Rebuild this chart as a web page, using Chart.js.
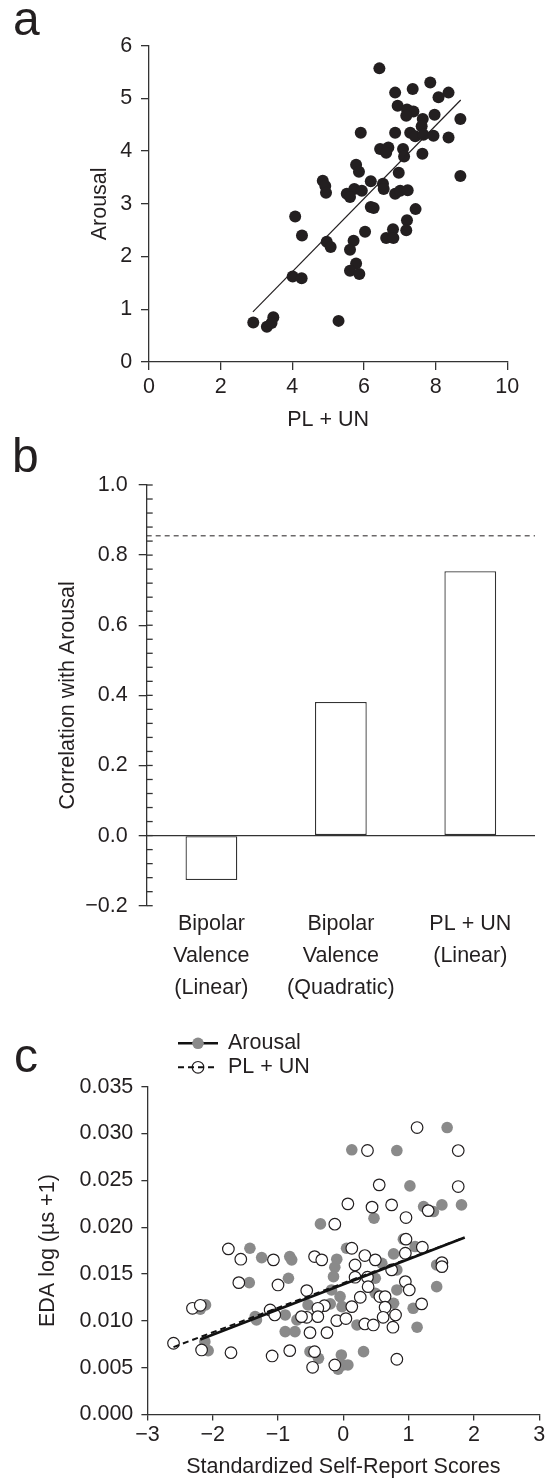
<!DOCTYPE html>
<html>
<head>
<meta charset="utf-8">
<script src="https://cdn.jsdelivr.net/npm/chart.js@4.4.1/dist/chart.umd.min.js"></script>
<style>
  html, body { margin: 0; padding: 0; background: #fff; }
  body { width: 551px; height: 1480px; position: relative; overflow: hidden;
         font-family: 'Liberation Sans', Arial, sans-serif; color: #231f20; }
  canvas { position: absolute; left: 0; }
  .tag { position: absolute; font-size: 48px; line-height: 48px; }
</style>
</head>
<body>
<canvas id="chartA" width="551" height="440" style="top:0"></canvas>
<canvas id="chartB" width="551" height="573" style="top:430px"></canvas>
<canvas id="chartC" width="551" height="477" style="top:1003px"></canvas>
<div class="tag" style="left:13px;top:-5px">a</div>
<div class="tag" style="left:12px;top:432px">b</div>
<div class="tag" style="left:14px;top:1032px">c</div>

<script>
// ---- data: panel a (PL + UN vs Arousal) ----
const aPlUn = [2.91, 3.29, 3.47, 3.42, 4.08, 4.27, 4.01, 4.26,
  6.43, 6.87, 7.36, 7.85, 8.08, 8.36, 6.94, 7.20, 7.38, 7.18, 7.97, 7.64, 7.61, 8.69,
  5.91, 6.87, 7.29, 7.43, 7.66, 7.94, 8.36, 6.45, 6.68, 6.62, 7.09, 7.12, 7.63,
  5.78, 5.86, 6.97, 8.69, 4.85, 4.92, 4.94, 6.19, 6.53, 6.55, 5.73, 5.94, 5.52, 5.61,
  6.87, 7.01, 7.22, 6.19, 6.27, 7.44, 7.20, 7.18, 6.81, 6.62, 6.82, 6.03, 5.71, 5.61,
  4.96, 5.07, 5.78, 5.61, 5.87, 5.29];
const aArousal = [0.75, 0.67, 0.85, 0.74, 2.76, 2.40, 1.62, 1.59,
  5.57, 5.11, 5.18, 5.30, 5.02, 5.11, 4.86, 4.79, 4.75, 4.67, 4.69, 4.61, 4.47, 4.61,
  4.35, 4.35, 4.35, 4.28, 4.31, 4.29, 4.26, 4.04, 4.07, 3.97, 4.04, 3.90, 3.95,
  3.74, 3.61, 3.59, 3.53, 3.44, 3.34, 3.21, 3.43, 3.38, 3.28, 3.28, 3.25, 3.19, 3.13,
  3.19, 3.25, 3.26, 2.94, 2.92, 2.90, 2.69, 2.50, 2.52, 2.35, 2.35, 2.47, 2.30, 2.13,
  2.28, 2.18, 1.87, 1.73, 1.67, 0.78];
const aFitX = [2.9, 8.7];
const aFitY = [0.95, 4.97];
const aXTicks = [0, 10, 2];
const aYTicks = [0, 6, 1];

// ---- data: panel b (correlations) ----
const bLabels = [['Bipolar', 'Valence', '(Linear)'], ['Bipolar', 'Valence', '(Quadratic)'], ['PL + UN', '(Linear)']];
const bCorr = [-0.127, 0.381, 0.754];
const bCeiling = 0.855;
const bYTicks = [-0.2, 1.0, 0.04];

// ---- data: panel c (EDA vs standardized scores) ----
const cArousalX = [-1.43, -1.25, -1.44, -2.11, -2.19, -1.35, -1.33, -2.12, -2.07,
  0.13, 0.47, -0.35, -0.82, -0.79, 0.05, -0.10, -0.13, -0.84, -0.15, 0.59, -0.18, -0.05,
  -0.02, -0.54, -0.20, 0.49, 0.49, -0.89, -0.89, -0.74, -0.71, 0.21, -0.51, -0.38, 0.31,
  -0.03, 0.00, 0.07, -0.08,
  1.59, 0.82, 1.02, 1.23, 1.51, 1.81, 1.38, 0.92, 0.77, 1.10, 0.82, 1.43, 0.82, 1.43,
  1.07, 0.77, 1.13];
const cArousalY = [0.01775, 0.01675, 0.01408, 0.01170, 0.01124, 0.01045, 0.01010, 0.00778, 0.00682,
  0.02826, 0.02096, 0.02035, 0.01686, 0.01651, 0.01775, 0.01658, 0.01573, 0.01455, 0.01472, 0.01615, 0.01330, 0.01259,
  0.01152, 0.01170, 0.01181, 0.01455, 0.01295, 0.01063, 0.00885, 0.00885, 0.01010, 0.00956, 0.00671, 0.00600, 0.00671,
  0.00636, 0.00529, 0.00529, 0.00483,
  0.03064, 0.02818, 0.02441, 0.02220, 0.02238, 0.02238, 0.02167, 0.01872, 0.01715, 0.01793, 0.01544, 0.01597, 0.01330, 0.01365,
  0.01134, 0.01188, 0.00932];
const cPlUnX = [-1.76, -1.57, -1.07, -1.60, -1.00, -2.31, -2.19, -1.12, -1.05, -2.60, -2.17, -1.72, -1.09,
  0.37, 0.55, 0.07, 0.44, 0.74, -0.13, 0.13, -0.44, -0.33, 0.33, 0.18, 0.49, 0.18, 0.37, 0.38,
  -0.56, 0.26, 0.56, 0.64, -0.29, -0.39, 0.13, 0.64, -0.56, -0.64, -0.39, -0.10, 0.04, 0.61,
  0.33, 0.46, -0.51, -0.25, -0.82, -0.44, -0.47, -0.13,
  1.13, 1.76, 1.76, 0.96, 1.30, 0.96, 0.95, 1.21, 1.51, 1.51, 0.74, 0.95, 1.01, 1.20, 0.80, 0.76, 0.82];
const cPlUnY = [0.01768, 0.01658, 0.01651, 0.01408, 0.01383, 0.01134, 0.01166, 0.01116, 0.01063, 0.00761, 0.00689, 0.00660, 0.00625,
  0.02819, 0.02452, 0.02249, 0.02214, 0.02238, 0.02032, 0.01775, 0.01686, 0.01651, 0.01697, 0.01597, 0.01651, 0.01466, 0.01466, 0.01365,
  0.01323, 0.01252, 0.01259, 0.01259, 0.01162, 0.01134, 0.01152, 0.01145, 0.01038, 0.01045, 0.01045, 0.01002, 0.01024, 0.01038,
  0.00967, 0.00956, 0.00874, 0.00874, 0.00682, 0.00671, 0.00504, 0.00529,
  0.03064, 0.02818, 0.02434, 0.02103, 0.02177, 0.01872, 0.01722, 0.01786, 0.01622, 0.01579, 0.01544, 0.01419, 0.01330, 0.01181, 0.01063, 0.00932, 0.00590];
const cArousalFitX = [-2.19, 1.86];
const cArousalFitY = [0.0080, 0.0189];
const cPlUnFitX = [-2.6, 1.82];
const cPlUnFitY = [0.0072, 0.0188];
const cXTicks = [-3, 3, 1];
const cYTicks = [0, 0.035, 0.005];
const cSeriesNames = ['Arousal', 'PL + UN'];

// ---- common style ----
const INK = '#231f20';
const AXIS = '#333333';
const GREY = '#8a8a8a';
Chart.defaults.font.family = "'Liberation Sans', Arial, sans-serif";
Chart.defaults.font.size = 21.5;
Chart.defaults.color = INK;
Chart.defaults.animation = false;
Chart.defaults.events = [];
Chart.defaults.plugins.legend.display = false;
Chart.defaults.plugins.tooltip.enabled = false;

const minus = s => String(s).replace('-', '\u2212');
const pts = (xs, ys) => xs.map((x, i) => ({ x: x, y: ys[i] }));

// ---- panel a ----
new Chart(document.getElementById('chartA'), {
  type: 'scatter',
  data: {
    datasets: [
      { data: pts(aFitX, aFitY), showLine: true, borderColor: INK, borderWidth: 1.2, pointRadius: 0, order: 0 },
      { data: pts(aPlUn, aArousal), backgroundColor: INK, pointRadius: 6, pointBorderWidth: 0, order: 1 }
    ]
  },
  options: {
    responsive: false,
    layout: { padding: { left: 0, top: 45.7, right: 43.7, bottom: 6.6 } },
    scales: {
      x: {
        type: 'linear', min: aXTicks[0], max: aXTicks[1],
        afterFit: s => { s.height = 71.4; },
        ticks: { stepSize: aXTicks[2], padding: 4.1 },
        grid: { drawOnChartArea: false, tickLength: 8, color: AXIS, lineWidth: 1.3 },
        border: { color: AXIS, width: 1.3 },
        title: { display: true, text: 'PL + UN', padding: 0 }
      },
      y: {
        min: aYTicks[0], max: aYTicks[1],
        afterFit: s => { s.width = 149; },
        ticks: { stepSize: aYTicks[2], padding: 8.7 },
        grid: { drawOnChartArea: false, tickLength: 8, color: AXIS, lineWidth: 1.3 },
        border: { color: AXIS, width: 1.3 },
        title: { display: true, text: 'Arousal', padding: { top: 87.1, bottom: 0 } }
      }
    }
  }
});

// ---- panel b ----
const isMajor = v => Math.abs(v * 5 - Math.round(v * 5)) < 1e-6;
// short inward ticks on the y axis (every 0.04)
const innerTicks = {
  id: 'innerTicks',
  afterDraw(chart) {
    const y = chart.scales.y, ctx = chart.ctx;
    ctx.save();
    ctx.strokeStyle = AXIS;
    ctx.lineWidth = 1.3;
    y.ticks.forEach(t => {
      const py = y.getPixelForValue(t.value);
      ctx.beginPath();
      ctx.moveTo(y.right, py);
      ctx.lineTo(y.right + 6, py);
      ctx.stroke();
    });
    ctx.restore();
  }
};

new Chart(document.getElementById('chartB'), {
  type: 'bar',
  data: {
    labels: bLabels,
    datasets: [
      { data: bCorr, backgroundColor: '#ffffff', borderColor: AXIS, borderWidth: 1.3,
        borderSkipped: false, grouped: false, barPercentage: 0.4, categoryPercentage: 1 },
      { type: 'line', xAxisID: 'x2', data: [{ x: 0, y: bCeiling }, { x: 1, y: bCeiling }],
        borderColor: INK, borderWidth: 1, borderDash: [5, 4], pointRadius: 0 }
    ]
  },
  options: {
    responsive: false,
    layout: { padding: { left: 0, top: 55, right: 16, bottom: 0 } },
    scales: {
      x: {
        afterFit: s => { s.height = 97.3; },
        ticks: { padding: 2, autoSkip: false, maxRotation: 0, font: { size: 21.5, lineHeight: 1.488 } },
        grid: { display: false, drawTicks: false },
        border: { display: false }
      },
      x2: { type: 'linear', min: 0, max: 1, offset: false, bounds: 'ticks', display: false },
      y: {
        min: bYTicks[0], max: bYTicks[1],
        afterFit: s => { s.width = 146.7; },
        ticks: {
          stepSize: bYTicks[2], autoSkip: false, padding: 11,
          callback: v => isMajor(v) ? minus((Math.round(v * 10) / 10).toFixed(1)) : ''
        },
        grid: {
          drawOnChartArea: true, tickLength: 8, lineWidth: 1.3,
          color: c => Math.abs(c.tick.value) < 1e-9 ? AXIS : 'rgba(0,0,0,0)',
          tickColor: c => isMajor(c.tick.value) ? AXIS : 'rgba(0,0,0,0)'
        },
        border: { color: AXIS, width: 1.3 },
        title: { display: true, text: 'Correlation with Arousal', padding: { top: 55.1, bottom: 0 } }
      }
    }
  },
  plugins: [innerTicks]
});

// ---- panel c ----
// legend: line sample with marker, as in the figure
const legendC = {
  id: 'legendC',
  afterDraw(chart) {
    const ctx = chart.ctx;
    const rows = [{ point: 2, line: 0 }, { point: 3, line: 1 }];
    ctx.save();
    rows.forEach((r, i) => {
      const y = 40.3 + i * 24;
      const ln = chart.data.datasets[r.line];
      const pt = chart.data.datasets[r.point];
      const drawLine = () => {
        ctx.strokeStyle = ln.borderColor;
        ctx.lineWidth = ln.borderWidth;
        ctx.setLineDash(ln.borderDash || []);
        ctx.beginPath(); ctx.moveTo(178, y); ctx.lineTo(218, y); ctx.stroke();
        ctx.setLineDash([]);
      };
      if (i === 0) drawLine();
      ctx.beginPath();
      ctx.arc(198, y, 5.8, 0, Math.PI * 2);
      ctx.fillStyle = pt.backgroundColor;
      ctx.fill();
      if (pt.pointBorderWidth) { ctx.lineWidth = pt.pointBorderWidth; ctx.strokeStyle = pt.borderColor; ctx.stroke(); }
      if (i === 1) drawLine();
      ctx.fillStyle = INK;
      ctx.font = "21.5px 'Liberation Sans', Arial, sans-serif";
      ctx.textBaseline = 'middle';
      ctx.fillText(cSeriesNames[i], 228, y);
    });
    ctx.restore();
  }
};

new Chart(document.getElementById('chartC'), {
  type: 'scatter',
  data: {
    datasets: [
      { data: pts(cArousalFitX, cArousalFitY), showLine: true, borderColor: '#111', borderWidth: 2.6,
        pointRadius: 0, order: 0 },
      { data: pts(cPlUnFitX, cPlUnFitY), showLine: true, borderColor: '#111', borderWidth: 2,
        borderDash: [6, 4], pointRadius: 0, order: 1 },
      { label: cSeriesNames[0], data: pts(cArousalX, cArousalY), backgroundColor: GREY,
        pointRadius: 5.8, pointBorderWidth: 0, order: 3 },
      { label: cSeriesNames[1], data: pts(cPlUnX, cPlUnY), backgroundColor: '#ffffff', borderColor: INK,
        pointRadius: 5.8, pointBorderWidth: 1.2, order: 2 }
    ]
  },
  options: {
    responsive: false,
    layout: { padding: { left: 0, top: 83.7, right: 11.8, bottom: 0 } },
    scales: {
      x: {
        type: 'linear', min: cXTicks[0], max: cXTicks[1],
        afterFit: s => { s.height = 65.5; },
        ticks: { stepSize: cXTicks[2], padding: 1.6, callback: v => minus(v) },
        grid: { drawOnChartArea: false, tickLength: 6, color: AXIS, lineWidth: 1.3 },
        border: { color: AXIS, width: 1.3 },
        title: { display: true, text: 'Standardized Self-Report Scores', padding: 0 }
      },
      y: {
        min: cYTicks[0], max: cYTicks[1],
        afterFit: s => { s.width = 147.4; },
        ticks: { stepSize: cYTicks[2], padding: 8.1, callback: v => v.toFixed(3) },
        grid: { drawOnChartArea: false, tickLength: 6, color: AXIS, lineWidth: 1.3 },
        border: { color: AXIS, width: 1.3 },
        title: { display: true, text: 'EDA log (\u00b5s +1)', padding: { top: 35.1, bottom: 0 } }
      }
    }
  },
  plugins: [legendC]
});
</script>
</body>
</html>
